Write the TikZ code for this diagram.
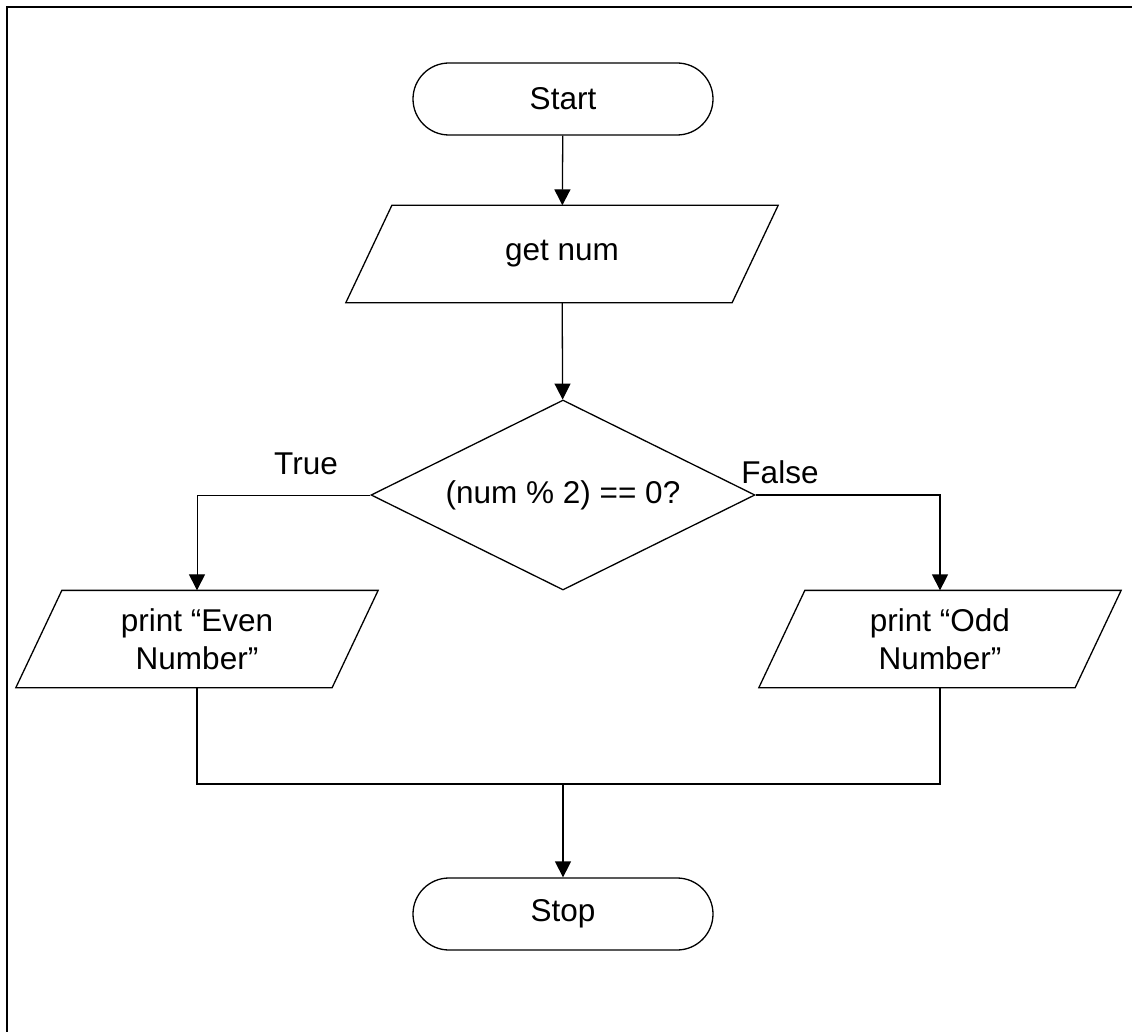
\documentclass[tikz,border=0pt]{standalone}
\usepackage{fontspec}
\setmainfont{Liberation Sans}
\usetikzlibrary{arrows.meta,shapes.geometric}

\begin{document}
\begin{tikzpicture}[x=1pt,y=-1pt,
  font=\fontsize{31.5}{38}\selectfont,
  line width=1.3pt,
  flow/.style={-{Triangle[length=16pt,width=16pt]}},
  terminal/.style={draw,rectangle,rounded corners=36pt,minimum width=300pt,minimum height=72pt,inner sep=0pt},
  iobox/.style={rectangle,inner sep=0pt,minimum height=96pt,align=center},
  decision/.style={draw,diamond,shape aspect=2,inner sep=0pt,minimum width=384pt,minimum height=190pt},
  lbl/.style={inner sep=0pt}
]
\useasboundingbox (0,0) rectangle (1132,1032);

% page frame (top and left edges)
\draw[line width=2.3pt] (1132,7) -- (7,7) -- (7,1032);

% nodes
\node[terminal] (start) at (563,99) {Start};
\node[iobox,minimum width=385pt] (get) at (562,254) {get num};
\node[decision] (dec) at (563,495) {(num \% 2) == 0?};
\node[iobox,minimum width=315pt] (even) at (197,639) {print “Even\\Number”};
\node[iobox,minimum width=315pt] (odd) at (940,639) {print “Odd\\Number”};
\node[terminal] (stop) at (563,914) {Stop};

% slanted outlines of the input/output boxes
\foreach \n in {get,even,odd}{
  \draw ([xshift=-23pt]\n.south west) -- ([xshift=-23pt]\n.south east)
     -- ([xshift=23pt]\n.north east) -- ([xshift=23pt]\n.north west) -- cycle;
}

% branch labels
\node[lbl] (ltrue) at (306,464) {True};
\node[lbl] (lfalse) at (780,472) {False};

% connectors
\draw[flow] (start) -- (get);
\draw[flow] (get) -- (dec);
\draw[flow,line width=1pt] (dec.west) -| (even.north);
\draw[flow] (dec.east) -| (odd.north);

\coordinate (join) at (563,784);
\draw (even.south) |- (join);
\draw (odd.south) |- (join);
\draw[flow] (join) -- (stop);
\end{tikzpicture}
\end{document}
